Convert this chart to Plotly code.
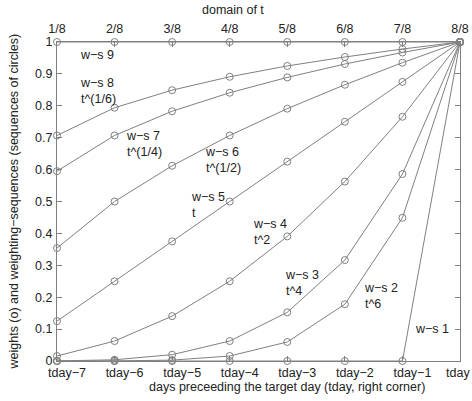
import plotly.graph_objects as go

x_idx = [0, 1, 2, 3, 4, 5, 6, 7]
bottom_labels = ["tday−7", "tday−6", "tday−5", "tday−4", "tday−3", "tday−2", "tday−1",
                 "tday" + "\u00a0" * 7]
top_labels = ["1/8", "2/8", "3/8", "4/8", "5/8", "6/8", "7/8", "8/8"]
y_ticks = [0, 0.1, 0.2, 0.3, 0.4, 0.5, 0.6, 0.7, 0.8, 0.9, 1]
y_labels = ["0", "0.1", "0.2", "0.3", "0.4", "0.5", "0.6", "0.7", "0.8", "0.9", "1"]

ws1 = [0, 0, 0, 0, 0, 0, 0, 1]
ws2 = [0.0000, 0.0002, 0.0028, 0.0156, 0.0596, 0.178, 0.449, 1]
ws3 = [0.0002, 0.0039, 0.0198, 0.0625, 0.1526, 0.3164, 0.586, 1]
ws4 = [0.0156, 0.0625, 0.1406, 0.25, 0.3906, 0.5625, 0.7656, 1]
ws5 = [0.125, 0.25, 0.375, 0.5, 0.625, 0.75, 0.875, 1]
ws6 = [0.354, 0.5, 0.612, 0.707, 0.791, 0.866, 0.935, 1]
ws7 = [0.595, 0.707, 0.783, 0.841, 0.889, 0.931, 0.967, 1]
ws8 = [0.707, 0.794, 0.849, 0.891, 0.925, 0.953, 0.978, 1]
ws9 = [1, 1, 1, 1, 1, 1, 1, 1]
series = [ws1, ws2, ws3, ws4, ws5, ws6, ws7, ws8, ws9]

# label text, x (index units), y (data)
labels = [
    ("w−s 9", 0.36, 0.959),
    ("w−s 8<br>t^(1/6)", 0.36, 0.845),
    ("w−s 7<br>t^(1/4)", 1.17, 0.679),
    ("w−s 6<br>t^(1/2)", 2.54, 0.630),
    ("w−s 5<br>t", 2.29, 0.489),
    ("w−s 4<br>t^2", 3.37, 0.405),
    ("w−s 3<br>t^4", 3.93, 0.243),
    ("w−s 2<br>t^6", 5.30, 0.204),
    ("w−s 1", 6.18, 0.100),
]

GRAY = "#808080"
TXT = "#222222"
FONT = "Liberation Sans, Arial, sans-serif"
FS = 12.5

fig = go.Figure()
for s in series:
    fig.add_trace(go.Scatter(
        x=x_idx, y=s, mode="lines+markers",
        line=dict(color=GRAY, width=1),
        marker=dict(symbol="circle-open", size=7, color=GRAY, line=dict(width=1, color=GRAY)),
        cliponaxis=False, showlegend=False, hoverinfo="skip",
    ))
# dummy trace for the top axis
fig.add_trace(go.Scatter(x=[0, 7], y=[1, 1], xaxis="x2", mode="lines",
                         line=dict(width=0), showlegend=False, hoverinfo="skip"))

for txt, xx, yy in labels:
    fig.add_annotation(x=xx, y=yy, text=txt, showarrow=False, xanchor="left",
                       yanchor="middle", align="left",
                       font=dict(family=FONT, size=FS, color=TXT))

# axis titles
fig.add_annotation(xref="paper", yref="paper", x=0.5, xshift=28, y=0, yshift=-26,
                   text="days preceeding the target day (tday, right corner)",
                   showarrow=False, xanchor="center", yanchor="middle",
                   font=dict(family=FONT, size=FS, color=TXT))
fig.add_annotation(xref="paper", yref="paper", x=0.5, xshift=-26, y=1, yshift=32,
                   text="domain of t", showarrow=False, xanchor="center", yanchor="middle",
                   font=dict(family=FONT, size=FS, color=TXT))
fig.add_annotation(xref="paper", yref="paper", x=0, xshift=-44, y=0.5,
                   text="weights (o) and weighting−sequences (sequences of circles)",
                   textangle=-90, showarrow=False, xanchor="center", yanchor="middle",
                   font=dict(family=FONT, size=FS, color=TXT))

axis_common = dict(showgrid=False, zeroline=False, showline=True, linecolor=GRAY,
                   linewidth=1, ticks="inside", ticklen=5, tickcolor=GRAY,
                   automargin=False, ticklabeloverflow="allow", tickangle=0,
                   tickfont=dict(family=FONT, size=FS, color=TXT))

fig.update_layout(
    width=472, height=401,
    margin=dict(l=57, r=12, t=42, b=40),
    paper_bgcolor="white", plot_bgcolor="white",
    font=dict(family=FONT, size=FS, color=TXT),
    xaxis=dict(range=[0, 7], tickvals=x_idx, ticktext=bottom_labels,
               ticklabelshift=10, **axis_common),
    xaxis2=dict(range=[0, 7], overlaying="x", side="top", tickvals=x_idx,
                ticktext=top_labels, ticklabelstandoff=3, **axis_common),
    yaxis=dict(range=[0, 1], tickvals=y_ticks, ticktext=y_labels,
               mirror="ticks", ticklabelstandoff=1, **axis_common),
)
fig.write_html("out.html", config={"displayModeBar": False},
               post_script="document.body.style.margin='0';document.body.style.overflow='hidden';")
